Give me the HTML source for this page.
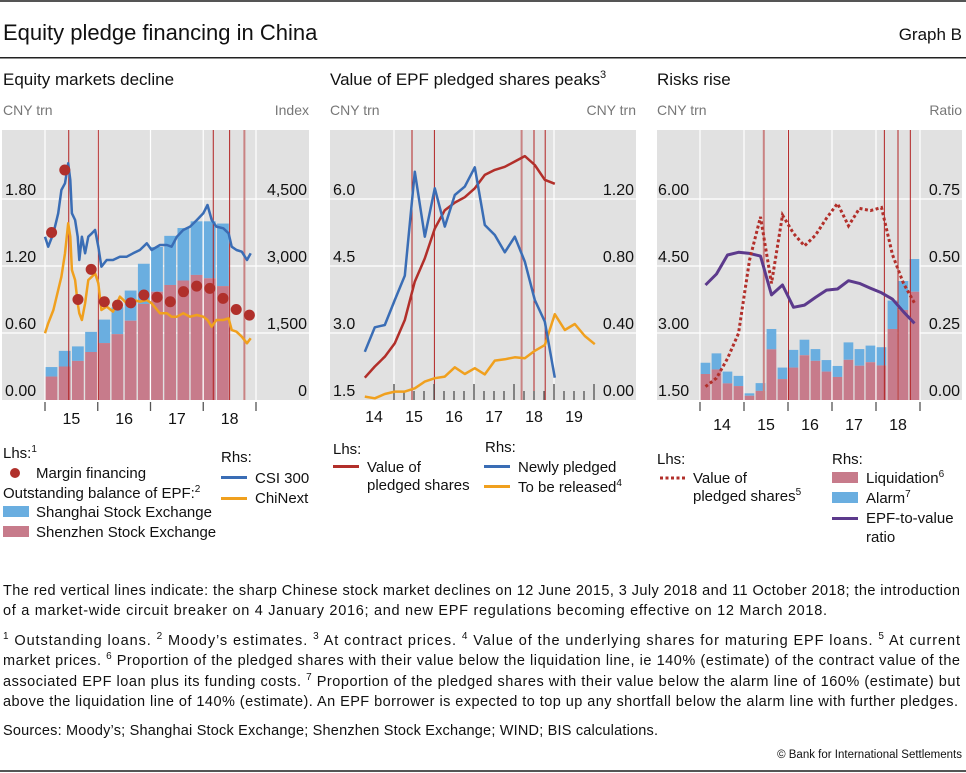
<!DOCTYPE html>
<html><head><meta charset="utf-8"><style>
html,body{margin:0;padding:0;background:#fff;}
svg{display:block;font-family:"Liberation Sans",sans-serif;}
</style></head><body>
<svg id="chart" width="966" height="773" viewBox="0 0 966 773" xmlns="http://www.w3.org/2000/svg">
<rect x="0" y="0" width="966" height="2" fill="#555"/>
<text x="3" y="40" font-size="22" fill="#111">Equity pledge financing in China</text>
<text x="962" y="40" font-size="17" fill="#111" text-anchor="end">Graph B</text>
<rect x="0" y="57" width="966" height="1.5" fill="#222"/>

<text x="3" y="85" font-size="17" fill="#111">Equity markets decline</text>
<text x="330" y="85" font-size="17" fill="#111">Value of EPF pledged shares peaks<tspan font-size="11" dy="-7">3</tspan></text>
<text x="657" y="85" font-size="17" fill="#111">Risks rise</text>

<text x="3" y="115" font-size="14" fill="#777">CNY trn</text>
<text x="309" y="115" font-size="14" fill="#777" text-anchor="end">Index</text>
<text x="330" y="115" font-size="14" fill="#777">CNY trn</text>
<text x="636" y="115" font-size="14" fill="#777" text-anchor="end">CNY trn</text>
<text x="657" y="115" font-size="14" fill="#777">CNY trn</text>
<text x="962" y="115" font-size="14" fill="#777" text-anchor="end">Ratio</text>

<g id="p1"></g>
<g id="p2"></g>
<g id="p3"></g>

<!-- Legend panel 1 -->
<g font-size="15" fill="#111">
<text x="3" y="458">Lhs:<tspan font-size="10" dy="-6">1</tspan></text>
<circle cx="15" cy="473" r="5" fill="#b0302b"/>
<text x="36" y="478">Margin financing</text>
<text x="3" y="498">Outstanding balance of EPF:<tspan font-size="10" dy="-6">2</tspan></text>
<rect x="3" y="506" width="26" height="11" fill="#6aaee0"/>
<text x="36" y="517">Shanghai Stock Exchange</text>
<rect x="3" y="526" width="26" height="11" fill="#c77b8b"/>
<text x="36" y="537">Shenzhen Stock Exchange</text>
<text x="221" y="462">Rhs:</text>
<rect x="221" y="476" width="26" height="3" fill="#3a6db5"/>
<text x="255" y="483">CSI 300</text>
<rect x="221" y="497" width="26" height="3" fill="#f0a01e"/>
<text x="255" y="503">ChiNext</text>
</g>
<!-- Legend panel 2 -->
<g font-size="15" fill="#111">
<text x="333" y="454">Lhs:</text>
<rect x="333" y="465" width="26" height="3" fill="#b22f2a"/>
<text x="367" y="472">Value of</text>
<text x="367" y="490">pledged shares</text>
<text x="485" y="452">Rhs:</text>
<rect x="484" y="465" width="26" height="3" fill="#3a6db5"/>
<text x="518" y="472">Newly pledged</text>
<rect x="484" y="485" width="26" height="3" fill="#f0a01e"/>
<text x="518" y="492">To be released<tspan font-size="10" dy="-6">4</tspan></text>
</g>
<!-- Legend panel 3 -->
<g font-size="15" fill="#111">
<text x="657" y="464">Lhs:</text>
<line x1="660" y1="478" x2="686" y2="478" stroke="#b22f2a" stroke-width="3" stroke-dasharray="3,2.5"/>
<text x="693" y="483">Value of</text>
<text x="693" y="501">pledged shares<tspan font-size="10" dy="-6">5</tspan></text>
<text x="832" y="464">Rhs:</text>
<rect x="832" y="472" width="26" height="11" fill="#c77b8b"/>
<text x="866" y="483">Liquidation<tspan font-size="10" dy="-6">6</tspan></text>
<rect x="832" y="492" width="26" height="11" fill="#6aaee0"/>
<text x="866" y="503">Alarm<tspan font-size="10" dy="-6">7</tspan></text>
<rect x="832" y="517" width="26" height="3" fill="#5c3a8c"/>
<text x="866" y="523">EPF-to-value</text>
<text x="866" y="542">ratio</text>
</g>

<g font-size="14.5" fill="#111">
<text x="3" y="595" textLength="957" lengthAdjust="spacing">The red vertical lines indicate: the sharp Chinese stock market declines on 12 June 2015, 3 July 2018 and 11 October 2018; the introduction</text>
<text x="3" y="615" textLength="824" lengthAdjust="spacing">of a market-wide circuit breaker on 4 January 2016; and new EPF regulations becoming effective on 12 March 2018.</text>
<text x="3" y="645" textLength="957" lengthAdjust="spacing"><tspan font-size="10" dy="-6">1</tspan><tspan dy="6">  Outstanding loans.    </tspan><tspan font-size="10" dy="-6">2</tspan><tspan dy="6">  Moody’s estimates.    </tspan><tspan font-size="10" dy="-6">3</tspan><tspan dy="6">  At contract prices.    </tspan><tspan font-size="10" dy="-6">4</tspan><tspan dy="6">  Value of the underlying shares for maturing EPF loans.    </tspan><tspan font-size="10" dy="-6">5</tspan><tspan dy="6">  At current</tspan></text>
<text x="3" y="665" textLength="957" lengthAdjust="spacing">market prices.    <tspan font-size="10" dy="-6">6</tspan><tspan dy="6">  Proportion of the pledged shares with their value below the liquidation line, ie 140% (estimate) of the contract value of the</tspan></text>
<text x="3" y="686" textLength="957" lengthAdjust="spacing">associated EPF loan plus its funding costs.    <tspan font-size="10" dy="-6">7</tspan><tspan dy="6">  Proportion of the pledged shares with their value below the alarm line of 160% (estimate) but</tspan></text>
<text x="3" y="706" textLength="955" lengthAdjust="spacing">above the liquidation line of 140% (estimate). An EPF borrower is expected to top up any shortfall below the alarm line with further pledges.</text>
<text x="3" y="735" textLength="655" lengthAdjust="spacing">Sources: Moody’s; Shanghai Stock Exchange; Shenzhen Stock Exchange; WIND; BIS calculations.</text>
<text x="962" y="758" font-size="11.5" text-anchor="end">© Bank for International Settlements</text>
</g>
<rect x="0" y="770" width="966" height="2" fill="#555"/>
</svg>
<script>
// ---------- Panel 1 data ----------
const p1Quarters = ["2015Q1","2015Q2","2015Q3","2015Q4","2016Q1","2016Q2","2016Q3","2016Q4","2017Q1","2017Q2","2017Q3","2017Q4","2018Q1","2018Q2"];
const p1Shanghai = [0.085,0.14,0.13,0.18,0.21,0.24,0.27,0.36,0.40,0.44,0.47,0.48,0.51,0.56];
const p1Shenzhen = [0.21,0.30,0.35,0.43,0.51,0.59,0.71,0.86,0.97,1.03,1.07,1.12,1.09,1.02];
const p1MarginQuarters = ["2015Q1","2015Q2","2015Q3","2015Q4","2016Q1","2016Q2","2016Q3","2016Q4","2017Q1","2017Q2","2017Q3","2017Q4","2018Q1","2018Q2","2018Q3","2018Q4"];
const p1Margin = [1.50,2.06,0.90,1.17,0.88,0.85,0.87,0.94,0.92,0.88,0.97,1.02,1.00,0.91,0.81,0.76];
const p1Dates = [2015.0,2015.06,2015.16,2015.25,2015.31,2015.38,2015.44,2015.48,2015.51,2015.57,2015.62,2015.65,2015.70,2015.76,2015.82,2015.89,2015.95,2016.01,2016.07,2016.17,2016.29,2016.42,2016.55,2016.67,2016.80,2016.93,2017.02,2017.18,2017.31,2017.40,2017.50,2017.62,2017.75,2017.88,2018.0,2018.08,2018.16,2018.25,2018.38,2018.48,2018.54,2018.63,2018.73,2018.83,2018.90];
const p1Csi300 = [3657,3433,3732,4179,4701,4851,5299,4925,4179,4030,3657,3135,3657,3284,3657,3732,3806,3433,2985,3135,3135,3209,3209,3284,3358,3508,3358,3470,3470,3433,3657,3806,3881,4030,4179,4366,4030,3881,3843,3732,3433,3358,3321,3135,3284];
const p1ChiNext = [1493,1717,2015,2463,2761,3284,3956,3657,2911,2687,2165,1941,1791,2165,2687,2761,2836,2612,2015,2090,1978,2314,2165,2239,2202,2239,2165,1941,1941,1866,1866,1941,1866,1903,1866,1791,1642,1791,1791,1828,1567,1530,1418,1269,1381];
const p1LhsTicks = [0, 0.6, 1.2, 1.8];
const p1LhsLabels = ["0.00","0.60","1.20","1.80"];
const p1RhsTicks = [0, 1500, 3000, 4500];
const p1RhsLabels = ["0","1,500","3,000","4,500"];
const p1Years = ["15","16","17","18"];
// ---------- Panel 2 data ----------
const p2Quarters = ["2014Q2","2014Q3","2014Q4","2015Q1","2015Q2","2015Q3","2015Q4","2016Q1","2016Q2","2016Q3","2016Q4","2017Q1","2017Q2","2017Q3","2017Q4","2018Q1","2018Q2","2018Q3","2018Q4","2019Q1","2019Q2","2019Q3","2019Q4","2020Q1"];
const p2Value = [2.0,2.25,2.47,2.77,3.29,4.15,4.67,5.34,5.75,5.92,6.04,6.24,6.54,6.65,6.72,6.84,6.96,6.76,6.43,6.34];
const p2Newly = [0.288,0.434,0.448,0.597,0.742,1.363,0.975,1.264,1.035,1.224,1.274,1.389,1.045,0.985,0.882,0.975,0.826,0.597,0.468,0.133];
const p2Released = [0.02,0.01,0.036,0.05,0.05,0.07,0.11,0.13,0.14,0.195,0.155,0.19,0.153,0.235,0.243,0.255,0.249,0.294,0.328,0.512,0.418,0.454,0.382,0.333];
const p2LhsTicks = [1.5,3.0,4.5,6.0];
const p2LhsLabels = ["1.5","3.0","4.5","6.0"];
const p2RhsTicks = [0,0.4,0.8,1.2];
const p2RhsLabels = ["0.00","0.40","0.80","1.20"];
const p2Years = ["14","15","16","17","18","19"];
// ---------- Panel 3 data ----------
const p3Quarters = ["2014Q1","2014Q2","2014Q3","2014Q4","2015Q1","2015Q2","2015Q3","2015Q4","2016Q1","2016Q2","2016Q3","2016Q4","2017Q1","2017Q2","2017Q3","2017Q4","2018Q1","2018Q2","2018Q3","2018Q4"];
const p3Liquidation = [0.097,0.114,0.062,0.052,0.016,0.034,0.189,0.078,0.121,0.167,0.146,0.106,0.086,0.150,0.128,0.141,0.129,0.265,0.336,0.404];
const p3Alarm = [0.042,0.060,0.044,0.038,0.009,0.029,0.076,0.043,0.066,0.058,0.044,0.043,0.041,0.065,0.062,0.062,0.068,0.106,0.108,0.122];
const p3Ratio = [0.429,0.470,0.541,0.551,0.547,0.537,0.392,0.429,0.346,0.354,0.383,0.410,0.414,0.445,0.435,0.417,0.400,0.376,0.329,0.286];
const p3ValueCurrent = [1.80,1.99,2.43,2.99,4.63,5.60,4.11,5.64,5.23,4.95,5.19,5.57,5.90,5.40,5.79,5.74,5.81,4.75,4.11,3.67];
const p3LhsTicks = [1.5,3.0,4.5,6.0];
const p3LhsLabels = ["1.50","3.00","4.50","6.00"];
const p3RhsTicks = [0,0.25,0.5,0.75];
const p3RhsLabels = ["0.00","0.25","0.50","0.75"];
const p3Years = ["14","15","16","17","18"];
// ---------- Events (red vertical lines) ----------
const eventDates = [2015.45, 2016.01, 2018.19, 2018.5, 2018.78];

const NS = "http://www.w3.org/2000/svg";
function mk(parent, tag, attrs){const e=document.createElementNS(NS,tag);for(const k in attrs)e.setAttribute(k,attrs[k]);parent.appendChild(e);return e;}
function qStart(l){return +l.slice(0,4)+(+l.slice(5)-1)*0.25;}
function pathOf(xs,ys){return xs.map((x,i)=>(i?"L":"M")+x.toFixed(1)+","+ys[i].toFixed(1)).join("");}

function frame(g, x0, x1, lhsT, lhsL, yL, rhsT, rhsL, yR, lx, rx){
  const bg = mk(g,"rect",{x:x0,y:130,width:x1-x0,height:270,fill:"#e1e1e1"});
  
  
  lhsT.forEach((v,i)=>{
    const y=yL(v);
    if(i>0){const gl=mk(g,"line",{x1:x0,x2:x1,y1:y,y2:y,stroke:"#fff","stroke-width":1.2});
      
      }
    const t=mk(g,"text",{x:lx,y:y-4,"font-size":16,fill:"#111"});t.textContent=lhsL[i];
    
    
  });
  rhsT.forEach((v,i)=>{
    const t=mk(g,"text",{x:rx,y:yR(v)-4,"font-size":16,fill:"#111","text-anchor":"end"});t.textContent=rhsL[i];
    
    
  });
}
function vgrid(g, xs){xs.forEach(x=>{const l=mk(g,"line",{x1:x,x2:x,y1:130,y2:400,stroke:"#fff","stroke-width":1.2});
  
  });}
function events(g, xf, paleIdx){eventDates.forEach((d,i)=>{const pale=i===paleIdx;
  const l=mk(g,"line",{x1:xf(d),x2:xf(d),y1:130,y2:400,stroke:pale?"#c98282":"#b22222","stroke-width":pale?2:1});
  
  });}
function yearAxis(g, years, startYear, xf, y, outsideTicks){
  for(let i=0;i<=years.length;i++){const x=xf(startYear+i);
    if(outsideTicks){const t=mk(g,"line",{x1:x,x2:x,y1:402,y2:411,stroke:"#555","stroke-width":1.3});
      
      }}
  years.forEach((lab,i)=>{const t=mk(g,"text",{x:(xf(startYear+i)+xf(startYear+i+1))/2,y:y,"font-size":16,fill:"#111","text-anchor":"middle"});t.textContent=lab;
    
    });
}

// ---------- Panel 1 ----------
(function(){
  const g=document.getElementById("p1");
  const xT=t=>45+(t-2015)*52.75, yL=v=>400-v*111.67, yR=v=>400-v*67/1500;
  frame(g,2,309,p1LhsTicks,p1LhsLabels,yL,p1RhsTicks,p1RhsLabels,yR,5,307);
  vgrid(g,[2015,2016,2017,2018,2019].map(xT));
  p1Quarters.forEach((q,i)=>{const x=xT(qStart(q))+0.6,w=52.75/4-1.4;
    const tot=p1Shanghai[i]+p1Shenzhen[i];
    const b1=mk(g,"rect",{x:x,y:yL(tot),width:w,height:yL(p1Shenzhen[i])-yL(tot),fill:"#6aaee0"});
    
    
    const b2=mk(g,"rect",{x:x,y:yL(p1Shenzhen[i]),width:w,height:400-yL(p1Shenzhen[i]),fill:"#c77b8b"});
    
    
  });
  events(g,xT,4);
  const ch=mk(g,"path",{d:pathOf(p1Dates.map(xT),p1ChiNext.map(yR)),fill:"none",stroke:"#f0a01e","stroke-width":2.5,"stroke-linejoin":"round"});
  
  
  const cs=mk(g,"path",{d:pathOf(p1Dates.map(xT),p1Csi300.map(yR)),fill:"none",stroke:"#3a6db5","stroke-width":2.5,"stroke-linejoin":"round"});
  
  
  p1MarginQuarters.forEach((q,i)=>{const c=mk(g,"circle",{cx:xT(qStart(q)+0.125),cy:yL(p1Margin[i]),r:5.5,fill:"#b0302b"});
    
    });
  yearAxis(g,p1Years,2015,xT,424,true);
})();

// ---------- Panel 2 ----------
(function(){
  const g=document.getElementById("p2");
  const xT=t=>354+(t-2014)*40, yL=v=>400-(v-1.5)*44.67, yR=v=>400-v*167.5;
  frame(g,330,636,p2LhsTicks,p2LhsLabels,yL,p2RhsTicks,p2RhsLabels,yR,333,634);
  vgrid(g,[2015,2017,2019].map(xT));
  events(g,xT,2);
  for(let q=0;q<=20;q++){const x=xT(2015+q*0.25);const major=q%4===0;
    const t=mk(g,"line",{x1:x,x2:x,y1:major?384:391,y2:400,stroke:"#444","stroke-width":1.2});
    
    }
  const xs=p2Quarters.map(q=>xT(qStart(q)+0.02));
  const o=mk(g,"path",{d:pathOf(xs.slice(0,p2Released.length),p2Released.map(yR)),fill:"none",stroke:"#f0a01e","stroke-width":2.5,"stroke-linejoin":"round"});
  
  
  const r=mk(g,"path",{d:pathOf(xs.slice(0,p2Value.length),p2Value.map(yL)),fill:"none",stroke:"#b22f2a","stroke-width":2.5,"stroke-linejoin":"round"});
  
  
  const b=mk(g,"path",{d:pathOf(xs.slice(0,p2Newly.length),p2Newly.map(yR)),fill:"none",stroke:"#3a6db5","stroke-width":2.5,"stroke-linejoin":"round"});
  
  
  yearAxis(g,p2Years,2014,xT,422,false);
})();

// ---------- Panel 3 ----------
(function(){
  const g=document.getElementById("p3");
  const xT=t=>700+(t-2014)*44, yL=v=>400-(v-1.5)*44.67, yR=v=>400-v*268;
  frame(g,657,962,p3LhsTicks,p3LhsLabels,yL,p3RhsTicks,p3RhsLabels,yR,658,960);
  vgrid(g,[2014,2015,2016,2017,2018,2019].map(xT));
  p3Quarters.forEach((q,i)=>{const x=xT(qStart(q))+0.6,w=11-1.3;
    const tot=p3Liquidation[i]+p3Alarm[i];
    const b1=mk(g,"rect",{x:x,y:yR(tot),width:w,height:yR(p3Liquidation[i])-yR(tot),fill:"#6aaee0"});
    
    
    const b2=mk(g,"rect",{x:x,y:yR(p3Liquidation[i]),width:w,height:400-yR(p3Liquidation[i]),fill:"#c77b8b"});
    
    
  });
  events(g,xT,0);
  const xs=p3Quarters.map(q=>xT(qStart(q)+0.125));
  const p=mk(g,"path",{d:pathOf(xs,p3Ratio.map(yR)),fill:"none",stroke:"#5c3a8c","stroke-width":3,"stroke-linejoin":"round"});
  
  
  const d=mk(g,"path",{d:pathOf(xs,p3ValueCurrent.map(yL)),fill:"none",stroke:"#b22f2a","stroke-width":3,"stroke-dasharray":"3,2.5"});
  
  
  yearAxis(g,p3Years,2014,xT,430,true);
})();
</script>
</body></html>
